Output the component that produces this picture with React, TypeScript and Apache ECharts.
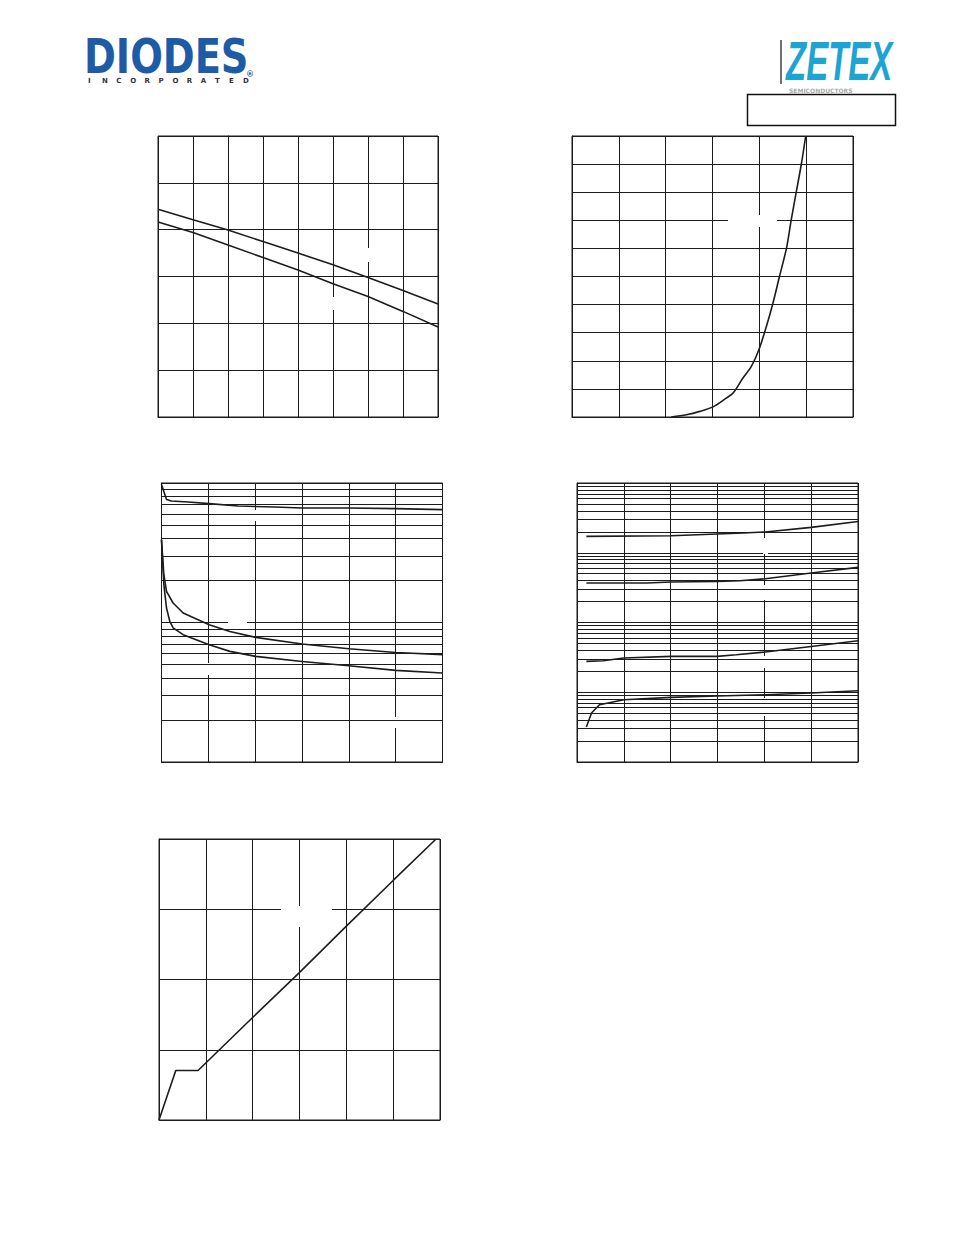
import React, { useEffect, useRef } from "react";
import * as echarts from "echarts";

// ---------- Chart 1 (top left) ----------
const c1X = [-50, -25, 0, 25, 50, 75, 100, 125, 150];
const c1Upper = [0.887, 0.842, 0.799, 0.749, 0.7, 0.65, 0.596, 0.54, 0.483];
const c1Lower = [0.833, 0.788, 0.735, 0.681, 0.628, 0.569, 0.515, 0.451, 0.384];

// ---------- Chart 2 (top right) ----------
const c2X = [0.424, 0.488, 0.546, 0.602, 0.66, 0.688, 0.73, 0.766, 0.798, 0.83, 0.858, 0.886, 0.916, 0.936, 0.958, 0.98, 0.998];
const c2Y = [0, 0.08, 0.2, 0.36, 0.68, 0.85, 1.39, 1.8, 2.39, 3.22, 4.05, 5.0, 6.01, 7.01, 8.02, 9.03, 10.0];

// ---------- Chart 3 (middle left, log y) ----------
const c3TopX = [0, 5.35, 10.7, 28.5, 50.9, 81.9, 121, 150, 200, 250, 300];
const c3TopY = [97.7, 76.3, 74.3, 73.1, 71.1, 68.4, 67.3, 66.2, 66.2, 65.5, 64.4];
const c3MidX = [0, 2.5, 5.35, 12.4, 23.1, 50.9, 73, 100.5, 150, 200, 250, 300];
const c3MidY = [39.2, 22.0, 16.7, 13.8, 11.7, 9.64, 8.63, 7.82, 7.01, 6.49, 6.1, 5.88];
const c3LowX = [0, 2.5, 5.35, 8.85, 12.4, 23.1, 50.9, 73, 100.5, 150, 200, 250, 300];
const c3LowY = [39.2, 18.7, 12.7, 10.2, 9.14, 8.18, 6.93, 6.21, 5.72, 5.26, 4.9, 4.54, 4.35];

// ---------- Chart 4 (middle right, log y) ----------
const c4AX = [1.0, 10.05, 14.95, 17.75, 20.1, 25, 30];
const c4AY = [1716, 1756, 1858, 1920, 1984, 2308, 2812];
const c4BX = [1.0, 7.4, 10.05, 14.95, 17.4, 20.1, 25, 30];
const c4BY = [368, 368, 381, 388, 397, 424, 513, 617];
const c4CX = [1.0, 2.8, 5.0, 10.05, 14.95, 17.0, 20.1, 25, 30];
const c4CY = [27.7, 28.3, 31.0, 32.7, 32.7, 34.5, 37.7, 45.4, 54.8];
const c4DX = [1.0, 1.55, 2.4, 5.0, 10.05, 14.95, 20.1, 25, 30];
const c4DY = [3.18, 5.04, 6.63, 7.82, 8.44, 8.84, 9.23, 9.75, 10.5];

// ---------- Chart 5 (bottom left) ----------
const c5X = [0, 1.79, 4.17, 9.94, 14.93, 19.95, 25, 29.58];
const c5Y = [0, 3.52, 3.52, 7.26, 10.45, 13.76, 17.05, 20];

// minor log grid multipliers
const logMinor = [2, 3, 4, 5, 6, 7, 8, 9];
const c3Decades = [1, 10];
const c4Decades = [1, 10, 100, 1000];

const LINE = "#1c1c1c";

const zip = (xs: number[], ys: number[]) => xs.map((x, i) => [x, ys[i]]);

export default function App() {
  const ref = useRef<HTMLDivElement>(null);

  useEffect(() => {
    if (!ref.current) return;
    const chart = echarts.init(ref.current, null, { renderer: "svg" });

    const axisCommon = {
      axisLabel: { show: false },
      axisTick: { show: false },
      axisLine: { show: true, lineStyle: { color: LINE, width: 1 } },
      splitLine: { show: true, lineStyle: { color: LINE, width: 1 } },
    };

    const grids = [
      { left: 158, top: 136, width: 280, height: 281 },
      { left: 572, top: 136, width: 281, height: 281 },
      { left: 161.5, top: 483, width: 281, height: 279 },
      { left: 577, top: 483, width: 281, height: 279 },
      { left: 159, top: 839, width: 281, height: 281 },
    ].map((g) => ({ ...g, show: true, borderColor: LINE, borderWidth: 1, backgroundColor: "transparent" }));

    const xAxis = [
      { gridIndex: 0, type: "value", min: -50, max: 150, interval: 25, ...axisCommon },
      { gridIndex: 1, type: "value", min: 0, max: 1.2, interval: 0.2, ...axisCommon },
      { gridIndex: 2, type: "value", min: 0, max: 300, interval: 50, ...axisCommon },
      { gridIndex: 3, type: "value", min: 0, max: 30, interval: 5, ...axisCommon },
      { gridIndex: 4, type: "value", min: 0, max: 30, interval: 5, ...axisCommon },
    ];
    const yAxis = [
      { gridIndex: 0, type: "value", min: 0, max: 1.2, interval: 0.2, ...axisCommon },
      { gridIndex: 1, type: "value", min: 0, max: 10, interval: 1, ...axisCommon },
      { gridIndex: 2, type: "log", logBase: 10, min: 1, max: 100, ...axisCommon },
      { gridIndex: 3, type: "log", logBase: 10, min: 1, max: 10000, ...axisCommon },
      { gridIndex: 4, type: "value", min: 0, max: 20, interval: 5, ...axisCommon },
    ];

    const curve = (idx: number, data: number[][]) => ({
      type: "line",
      xAxisIndex: idx,
      yAxisIndex: idx,
      data,
      symbol: "none",
      z: 4,
      silent: true,
      lineStyle: { color: LINE, width: 1.6 },
    });

    const minorLines = (idx: number, decades: number[], x0: number) => ({
      type: "line",
      xAxisIndex: idx,
      yAxisIndex: idx,
      data: [[x0, decades[0]]],
      symbol: "none",
      z: 2,
      silent: true,
      lineStyle: { opacity: 0 },
      markLine: {
        silent: true,
        symbol: ["none", "none"],
        label: { show: false },
        emphasis: { disabled: true },
        lineStyle: { color: LINE, width: 1, type: "solid" },
        data: decades.flatMap((d) => logMinor.map((m) => ({ yAxis: d * m }))),
      },
    });

    // white patches where the original labels interrupted the grid
    const gaps = [
      [366, 248, 5, 14],
      [331, 297, 5, 13],
      [728, 215, 49, 12],
      [243, 510, 19, 11],
      [228, 621, 19, 5],
      [203, 663, 20, 12],
      [372, 717, 40, 11],
      [763, 538, 5, 16],
      [741, 585, 55, 15],
      [743, 656, 50, 12],
      [748, 698, 50, 18],
      [281, 906, 51, 21],
    ];

    const incLetters = "INCORPORATED".split("");

    const graphic: any[] = [
      ...gaps.map(([x, y, w, h]) => ({
        type: "rect",
        z: 3,
        silent: true,
        shape: { x, y, width: w, height: h },
        style: { fill: "#ffffff" },
      })),
      {
        type: "text",
        x: 84,
        y: 32,
        scaleX: 0.8,
        z: 5,
        style: {
          text: "DIODES",
          fill: "#1d5ba7",
          font: "bold 48px 'DejaVu Sans', sans-serif",
        },
      },
      ...incLetters.map((ch, i) => ({
        type: "text",
        x: 88 + i * 14.1,
        y: 77,
        z: 5,
        style: {
          text: ch,
          fill: "#333333",
          font: "bold 7px 'DejaVu Sans', sans-serif",
        },
      })),
      {
        type: "text",
        x: 246,
        y: 70,
        z: 5,
        style: { text: "®", fill: "#1d5ba7", font: "bold 8px 'DejaVu Sans', sans-serif" },
      },
      {
        type: "line",
        z: 5,
        shape: { x1: 781, y1: 40, x2: 781, y2: 84 },
        style: { stroke: "#111111", lineWidth: 1.2 },
      },
      {
        type: "text",
        x: 786,
        y: 34,
        scaleX: 0.6,
        z: 5,
        style: {
          text: "ZETEX",
          fill: "#1ea4d2",
          font: "italic bold 55px 'Liberation Sans', Arial, sans-serif",
        },
      },
      {
        type: "text",
        x: 789,
        y: 87,
        z: 5,
        style: {
          text: "SEMICONDUCTORS",
          fill: "#aaaaaa",
          font: "bold 6px 'DejaVu Sans', sans-serif",
        },
      },
      {
        type: "rect",
        z: 5,
        shape: { x: 747.5, y: 94.5, width: 148, height: 31 },
        style: { fill: "#ffffff", stroke: "#111111", lineWidth: 1.5 },
      },
    ];

    chart.setOption({
      animation: false,
      grid: grids,
      xAxis,
      yAxis,
      graphic,
      series: [
        curve(0, zip(c1X, c1Upper)),
        curve(0, zip(c1X, c1Lower)),
        { ...curve(1, zip(c2X, c2Y)), smooth: 0.3 },
        minorLines(2, c3Decades, 0),
        curve(2, zip(c3TopX, c3TopY)),
        curve(2, zip(c3MidX, c3MidY)),
        curve(2, zip(c3LowX, c3LowY)),
        minorLines(3, c4Decades, 0),
        curve(3, zip(c4AX, c4AY)),
        curve(3, zip(c4BX, c4BY)),
        curve(3, zip(c4CX, c4CY)),
        curve(3, zip(c4DX, c4DY)),
        curve(4, zip(c5X, c5Y)),
      ],
    } as any);

    return () => chart.dispose();
  }, []);

  return (
    <div
      ref={ref}
      style={{ position: "absolute", left: 0, top: 0, width: 954, height: 1235, background: "#ffffff" }}
    />
  );
}
